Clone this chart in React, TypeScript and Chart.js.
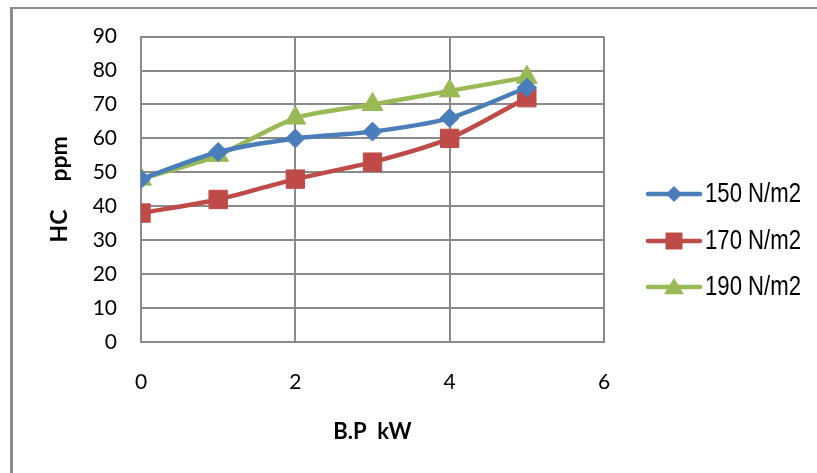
import React, { useEffect, useRef } from "react";
import { Chart, registerables } from "chart.js";

Chart.register(...registerables);

// Brake power (kW) at each measurement
const bpKW = [0, 1, 2, 3, 4, 5];

// HC emissions (ppm) for each injection pressure
const hc150 = [48, 56, 60, 62, 66, 75];
const hc170 = [38, 42, 48, 53, 60, 72];
const hc190 = [48, 55, 66, 70, 74, 78];

const seriesLabels = ["150 N/m2", "170 N/m2", "190 N/m2"];
const seriesColors = ["#4A7EBB", "#BE4B48", "#98B954"];
const seriesMarkers = ["rectRot", "rect", "triangle"] as const;
const seriesRadii = [9.5, 13, 12];

const FONT = "Lato, 'Liberation Sans', Arial, sans-serif";
const LEGEND_FONT = "'Liberation Sans', Arial, sans-serif";

function drawMarker(ctx: CanvasRenderingContext2D, style: string, r: number, x: number, y: number) {
  ctx.beginPath();
  if (style === "rectRot") {
    ctx.moveTo(x, y - r);
    ctx.lineTo(x + r, y);
    ctx.lineTo(x, y + r);
    ctx.lineTo(x - r, y);
  } else if (style === "rect") {
    const s = r * Math.SQRT1_2;
    ctx.rect(x - s, y - s, 2 * s, 2 * s);
  } else {
    const h = r * 0.85;
    ctx.moveTo(x, y - h);
    ctx.lineTo(x + r * 0.95, y + h * 0.8);
    ctx.lineTo(x - r * 0.95, y + h * 0.8);
  }
  ctx.closePath();
  ctx.fill();
}

// Legend on the right: short line with the series marker, then a condensed label
const sideLegend = {
  id: "sideLegend",
  afterDraw(chart: any) {
    const ctx = chart.ctx;
    const rowsY = [194, 241, 287];
    const x0 = 648;
    const x1 = 700;
    chart.data.datasets.forEach((ds: any, i: number) => {
      const y = rowsY[i];
      ctx.save();
      ctx.strokeStyle = ds.borderColor;
      ctx.lineWidth = 4.5;
      ctx.lineCap = "round";
      ctx.beginPath();
      ctx.moveTo(x0, y);
      ctx.lineTo(x1, y);
      ctx.stroke();
      ctx.fillStyle = ds.backgroundColor;
      const style = ds.pointStyle;
      const r = style === "rectRot" ? 8 : style === "rect" ? 12 : 10.5;
      drawMarker(ctx, style, r, (x0 + x1) / 2, y);
      ctx.fillStyle = "#000";
      ctx.font = `27px ${LEGEND_FONT}`;
      ctx.textBaseline = "middle";
      ctx.textAlign = "left";
      ctx.translate(x1 + 5, y + 1);
      ctx.scale(0.82, 1);
      ctx.fillText(ds.label, 0, 0);
      ctx.restore();
    });
  },
};

export default function App() {
  const canvasRef = useRef<HTMLCanvasElement | null>(null);

  useEffect(() => {
    const canvas = canvasRef.current;
    if (!canvas) return;
    const series = [hc150, hc170, hc190];
    const chart = new Chart(canvas, {
      type: "line",
      data: {
        datasets: series.map((vals, i) => ({
          label: seriesLabels[i],
          data: bpKW.map((x, j) => ({ x, y: vals[j] })),
          borderColor: seriesColors[i],
          backgroundColor: seriesColors[i],
          borderWidth: 4.5,
          pointStyle: seriesMarkers[i],
          pointRadius: seriesRadii[i],
          pointBorderWidth: 1,
          pointHoverRadius: seriesRadii[i],
          tension: 0.25,
          fill: false,
        })),
      },
      options: {
        animation: false,
        responsive: false,
        maintainAspectRatio: false,
        layout: { padding: { left: 0, top: 35, right: 213, bottom: 0 } },
        plugins: {
          legend: { display: false },
          tooltip: { enabled: false },
        },
        scales: {
          x: {
            type: "linear",
            min: 0,
            max: 6,
            ticks: {
              stepSize: 2,
              padding: 28,
              color: "#000",
              font: { family: FONT, size: 21 },
            },
            grid: { color: "#8a8a8a", lineWidth: 2, drawTicks: false },
            border: { color: "#8a8a8a", width: 2 },
            title: {
              display: true,
              text: "B.P  kW",
              color: "#000",
              font: { family: FONT, size: 22, weight: "bold" },
              padding: { top: 0, bottom: 28 },
            },
            afterFit(scale: any) {
              scale.height = 131;
            },
          },
          y: {
            min: 0,
            max: 90,
            ticks: {
              stepSize: 10,
              padding: 24,
              color: "#000",
              font: { family: FONT, size: 21 },
            },
            grid: { color: "#8a8a8a", lineWidth: 2, drawTicks: false },
            border: { color: "#8a8a8a", width: 2 },
            title: {
              display: true,
              text: "HC     ppm",
              color: "#000",
              font: { family: FONT, size: 23, weight: "bold" },
              padding: { top: 46, bottom: 0 },
            },
            afterFit(scale: any) {
              scale.width = 141;
            },
          },
        },
      },
      plugins: [sideLegend],
    });
    return () => chart.destroy();
  }, []);

  return (
    <div
      style={{
        position: "fixed",
        left: 0,
        top: 0,
        width: 817,
        height: 473,
        background: "#fff",
        overflow: "hidden",
      }}
    >
      <div
        style={{
          position: "absolute",
          left: 10,
          top: 7,
          width: 900,
          height: 600,
          borderLeft: "3px solid #8c8c8c",
          borderTop: "2px solid #8c8c8c",
          boxSizing: "border-box",
        }}
      />
      <canvas
        ref={canvasRef}
        width={817}
        height={473}
        style={{ position: "absolute", left: 0, top: 0, width: 817, height: 473 }}
      />
    </div>
  );
}
